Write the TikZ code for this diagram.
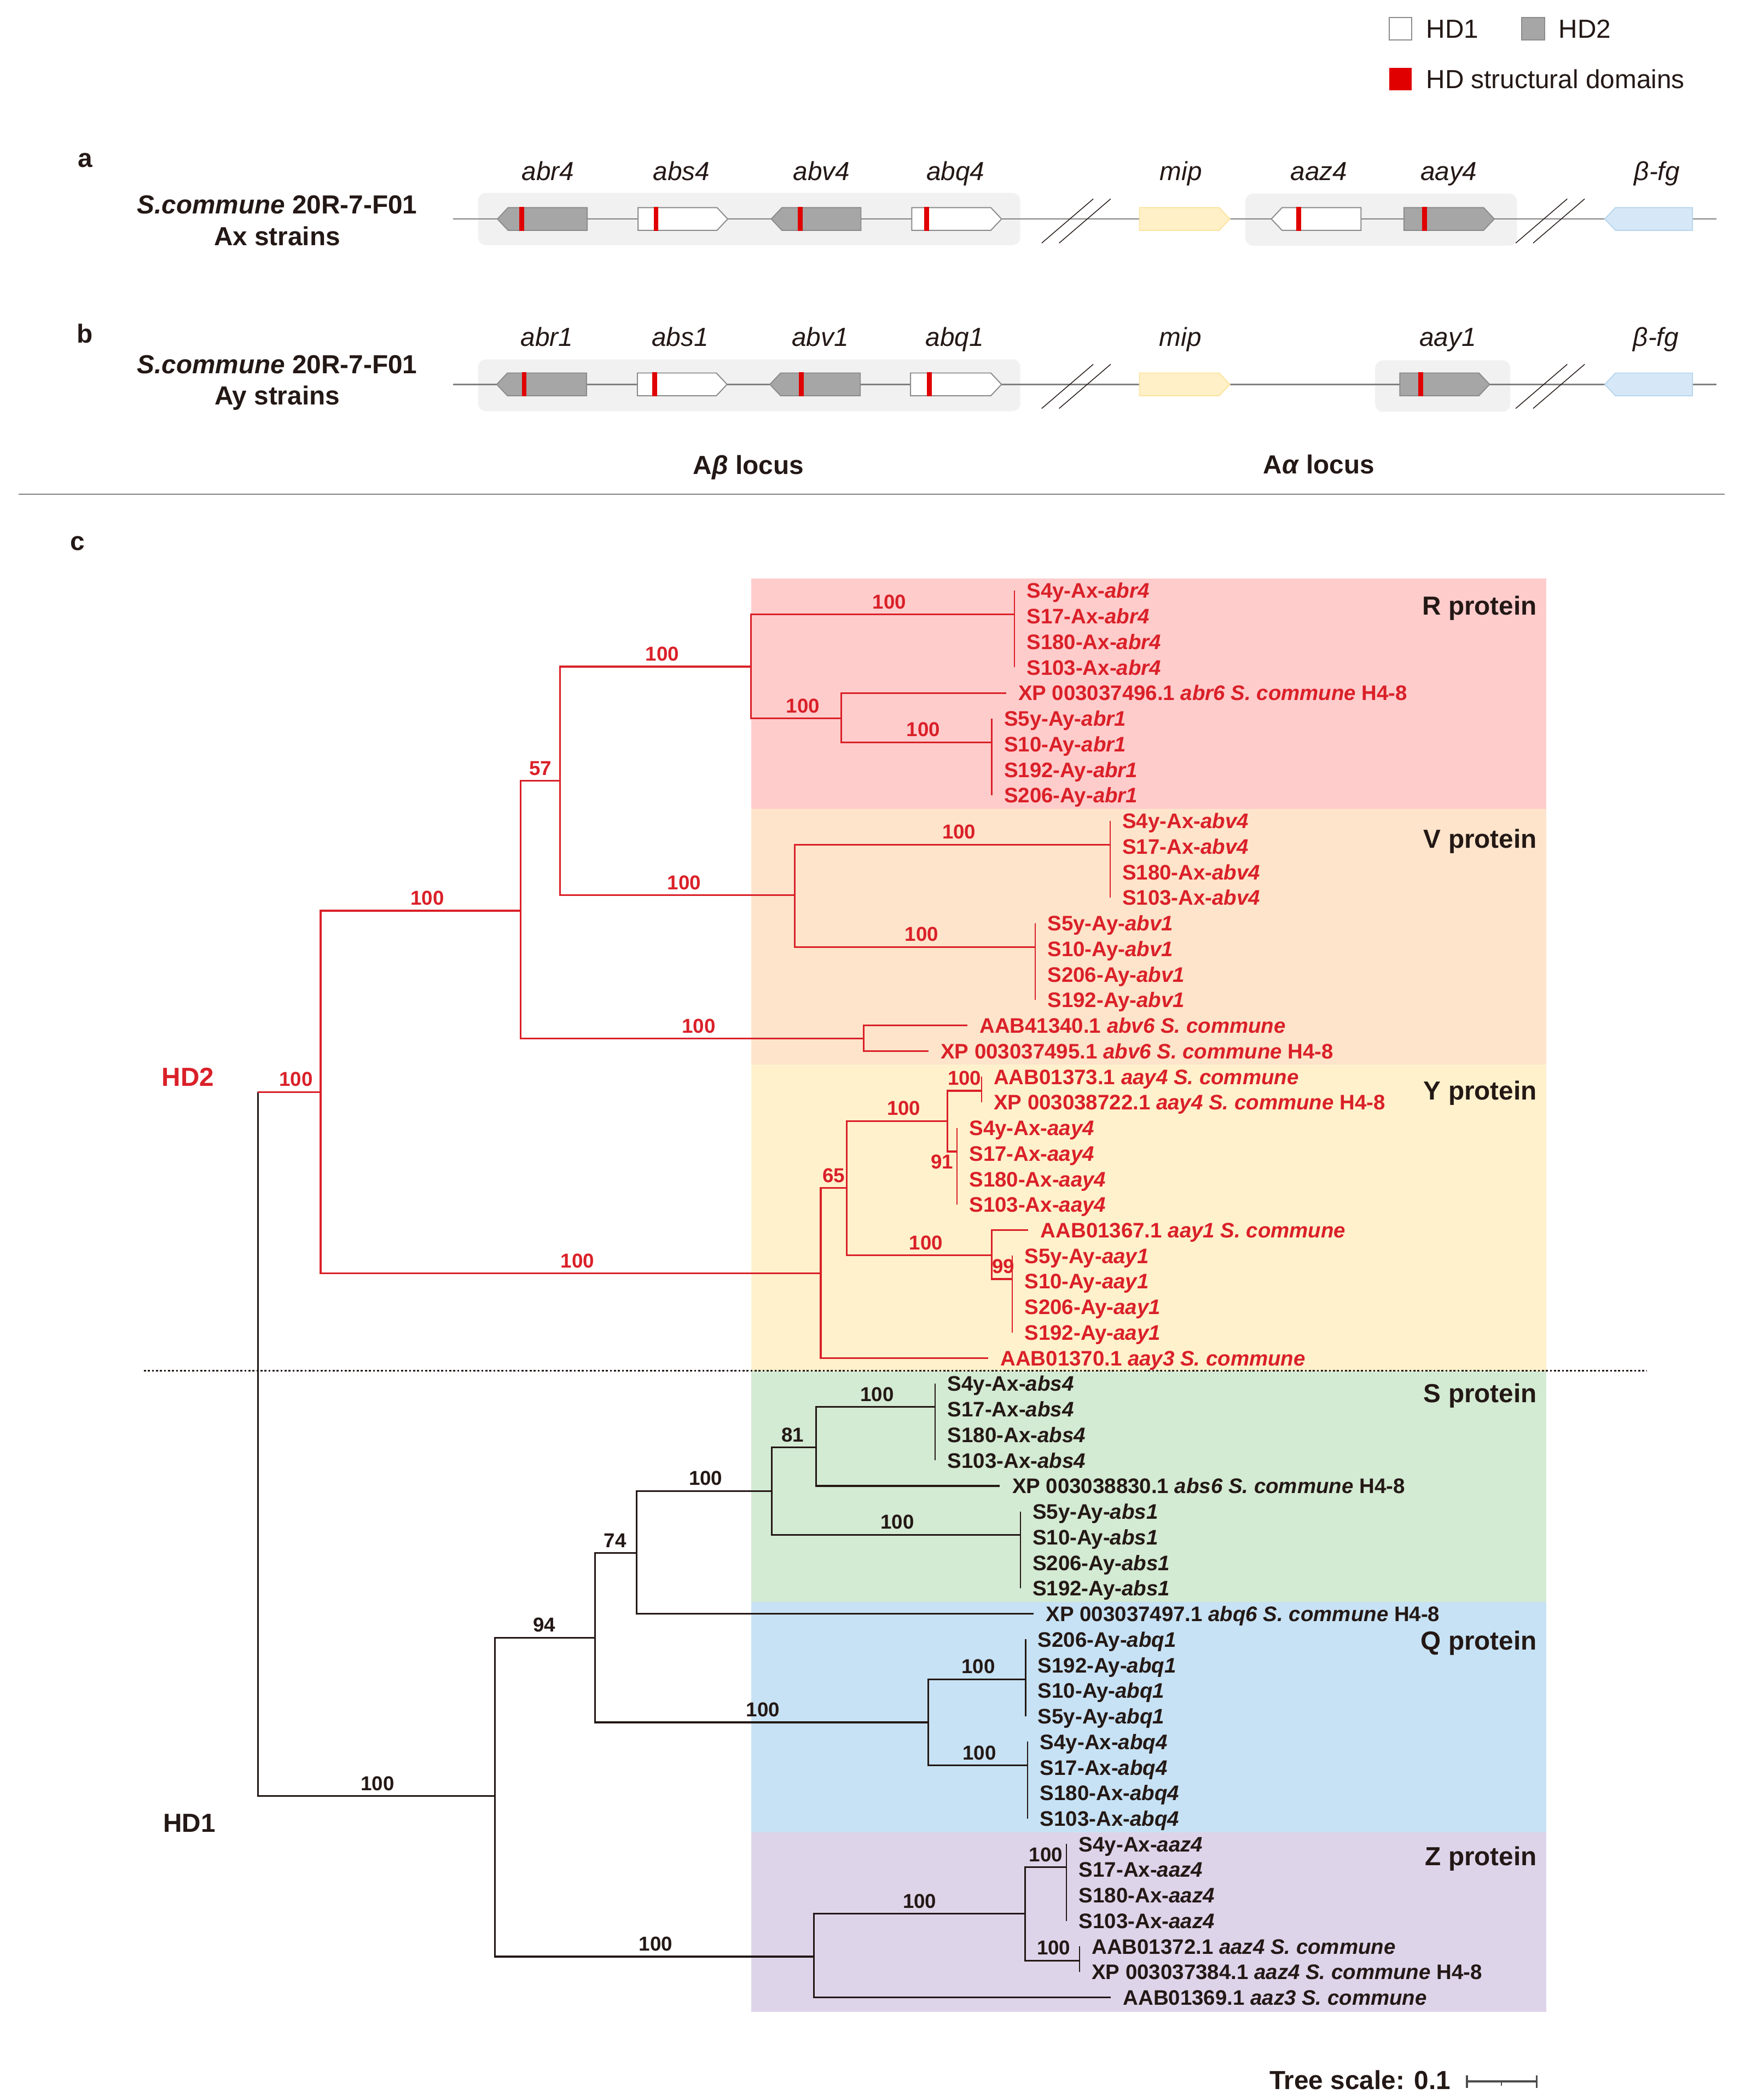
\documentclass[tikz,border=0pt]{standalone}
\usepackage{fontspec}
\setmainfont{Liberation Sans}

\definecolor{ink}{RGB}{35,24,21}
\definecolor{hdred}{RGB}{218,32,40}
\definecolor{domred}{RGB}{224,0,0}
\definecolor{genegray}{RGB}{166,166,166}
\definecolor{geneline}{RGB}{140,140,140}
\definecolor{trackgray}{RGB}{128,128,128}
\definecolor{locusbg}{RGB}{241,241,241}
\definecolor{mipfill}{RGB}{255,240,200}
\definecolor{mipline}{RGB}{252,228,160}
\definecolor{fgfill}{RGB}{214,232,247}
\definecolor{fgline}{RGB}{185,215,238}
\definecolor{bgR}{RGB}{255,204,204}
\definecolor{bgV}{RGB}{253,228,203}
\definecolor{bgY}{RGB}{255,241,204}
\definecolor{bgS}{RGB}{211,234,211}
\definecolor{bgQ}{RGB}{199,226,244}
\definecolor{bgZ}{RGB}{222,212,234}

% gene arrows: x1, x2, y, style
\newcommand{\rgene}[4]{%
  \draw[#4] (#1,#3-8.5) -- (#2-8,#3-8.5) -- (#2,#3) -- (#2-8,#3+8.5) -- (#1,#3+8.5) -- cycle;}
\newcommand{\lgene}[4]{%
  \draw[#4] (#1+8,#3-8.5) -- (#2,#3-8.5) -- (#2,#3+8.5) -- (#1+8,#3+8.5) -- (#1,#3) -- cycle;}
\newcommand{\hdbar}[2]{%
  \fill[domred] (#1-1.8,#2-9) rectangle (#1+1.8,#2+9);}
\newcommand{\breakmark}[2]{%
  \draw[ink, line width=0.6pt] (#1,#2+18) -- (#1+38.5,#2-15);
  \draw[ink, line width=0.6pt] (#1+13,#2+18) -- (#1+51.5,#2-15);}

\begin{document}
\begin{tikzpicture}[x=1pt, y=-1pt,
    lbl/.style = {inner sep=0pt, text height=14pt, text depth=0pt, text=ink, font=\fontsize{19.5}{23}\selectfont},
    hd/.style = {lbl, font=\fontsize{19.5}{23}\selectfont\bfseries},
    gname/.style = {lbl, font=\fontsize{19.5}{23}\selectfont\itshape},
    leaf/.style = {anchor=west, inner xsep=9pt, inner ysep=0pt, text height=11.3pt, text depth=0pt, font=\fontsize{15.7}{19}\selectfont\bfseries},
    leafr/.style = {leaf, text=hdred},
    leafk/.style = {leaf, text=ink},
    boot/.style = {pos=0.75, above, inner xsep=0pt, inner ysep=3.6pt, text height=10.8pt, text depth=0pt, font=\fontsize{15}{18}\selectfont\bfseries, xshift=1pt},
    bootr/.style = {boot, xshift=4pt},
    redtree/.style = {color=hdred, line width=1.3pt},
    blktree/.style = {color=ink, line width=1.3pt},
    tip/.style = {line width=0.9pt},
    graygene/.style = {fill=genegray, draw=geneline, line width=0.8pt},
    whitegene/.style = {fill=white, draw=geneline, line width=0.8pt},
    mipgene/.style = {fill=mipfill, draw=mipline, line width=0.8pt},
    fggene/.style = {fill=fgfill, draw=fgline, line width=0.8pt},
    locus/.style = {fill=locusbg, rounded corners=6pt},
    track/.style = {draw=trackgray, line width=1.1pt}]

    \useasboundingbox (0,0) rectangle (1304,1568);

    % Legend
    \draw[geneline, fill=white, line width=0.8pt] (1037.5,13) rectangle (1054.5,30);
    \node[lbl, anchor=west] (lgone) at (1065,21.5) {HD1};
    \draw[geneline, fill=genegray, line width=0.8pt] (1136.5,13) rectangle (1153.5,30);
    \node[lbl, anchor=west] (lgtwo) at (1164,21.5) {HD2};
    \fill[domred] (1037.5,50.5) rectangle (1054.5,67.5);
    \node[lbl, anchor=west] (lgdom) at (1065,59) {HD structural domains};

    % Panel a
    \node[hd] (pa) at (63.5,118) {a};
    \node[hd] (straina) at (207,152.7) {\textit{S.commune} 20R-7-F01};
    \node[hd] (axlbl) at (207,176.3) {Ax strains};
    \fill[locus] (357,144) rectangle (762,183);
    \fill[locus] (930,144.5) rectangle (1133,183.5);
    \draw[track] (338.5,163.5) -- (1282,163.5);
    \breakmark{778}{163.5}
    \breakmark{1132}{163.5}
    \lgene{371.5}{438.5}{163.5}{graygene} \hdbar{389.5}{163.5}
    \rgene{476.5}{543.5}{163.5}{whitegene} \hdbar{490}{163.5}
    \lgene{576}{643}{163.5}{graygene} \hdbar{597.5}{163.5}
    \rgene{681}{748}{163.5}{whitegene} \hdbar{692}{163.5}
    \rgene{851}{918.5}{163.5}{mipgene}
    \lgene{949.5}{1016.5}{163.5}{whitegene} \hdbar{970}{163.5}
    \rgene{1048.5}{1116}{163.5}{graygene} \hdbar{1064}{163.5}
    \lgene{1198.5}{1264}{163.5}{fggene}
    \node[gname] (ga1) at (409.3,127.6) {abr4};
    \node[gname] (ga2) at (509,127.6) {abs4};
    \node[gname] (ga3) at (613.5,127.6) {abv4};
    \node[gname] (ga4) at (713.6,127.6) {abq4};
    \node[gname] (ga5) at (882,127.6) {mip};
    \node[gname] (ga6) at (985,127.6) {aaz4};
    \node[gname] (ga7) at (1082,127.6) {aay4};
    \node[gname] (ga8) at (1237.5,127.6) {β-fg};

    % Panel b
    \node[hd] (pb) at (63.5,249) {b};
    \node[hd] (strainb) at (207,271.7) {\textit{S.commune} 20R-7-F01};
    \node[hd] (aylbl) at (207,295.4) {Ay strains};
    \fill[locus] (357,268.3) rectangle (762,307);
    \fill[locus] (1027,269) rectangle (1128,307.5);
    \draw[track] (338.5,287) -- (1282,287);
    \breakmark{778}{287}
    \breakmark{1132}{287}
    \lgene{371}{438}{287}{graygene} \hdbar{391.5}{287}
    \rgene{476}{543}{287}{whitegene} \hdbar{489}{287}
    \lgene{575}{642.5}{287}{graygene} \hdbar{598.5}{287}
    \rgene{680}{748}{287}{whitegene} \hdbar{694}{287}
    \rgene{851}{918.5}{287}{mipgene}
    \rgene{1045.5}{1112.5}{287}{graygene} \hdbar{1061}{287}
    \lgene{1198.5}{1264}{287}{fggene}
    \node[gname] (gb1) at (408.5,251.4) {abr1};
    \node[gname] (gb2) at (508,251.4) {abs1};
    \node[gname] (gb3) at (612.5,251.4) {abv1};
    \node[gname] (gb4) at (713,251.4) {abq1};
    \node[gname] (gb5) at (881.5,251.4) {mip};
    \node[gname] (gb7) at (1081.3,251.4) {aay1};
    \node[gname] (gb8) at (1236.7,251.4) {β-fg};

    \node[hd] (locb) at (559,347) {A\textit{β} locus};
    \node[hd] (loca) at (985,346.5) {A\textit{α} locus};
    \draw[trackgray, line width=1pt] (14,369) -- (1288,369);

    % Panel c: clade backgrounds
    \node[hd] (pc) at (58,404) {c};
    \fill[bgR] (561,432) rectangle (1155,604);
    \fill[bgV] (561,604) rectangle (1155,795);
    \fill[bgY] (561,795) rectangle (1155,1023.5);
    \fill[bgS] (561,1023.5) rectangle (1155,1196);
    \fill[bgQ] (561,1196) rectangle (1155,1368);
    \fill[bgZ] (561,1368) rectangle (1155,1502);
    \node[hd, anchor=east] (protR) at (1148,452) {R protein};
    \node[hd, anchor=east] (protV) at (1148,626) {V protein};
    \node[hd, anchor=east] (protY) at (1148,814) {Y protein};
    \node[hd, anchor=east] (protS) at (1148,1040) {S protein};
    \node[hd, anchor=east] (protQ) at (1148,1225) {Q protein};
    \node[hd, anchor=east] (protZ) at (1148,1386) {Z protein};
    \draw[ink, line width=1.2pt, dash pattern=on 1.5pt off 1.5pt] (107.5,1023.5) -- (1230,1023.5);

    \node[hd, text=hdred] (hdtwolbl) at (140.4,804) {HD2};
    \node[hd] (hdonelbl) at (141.5,1361) {HD1};

    % Inner nodes
    \coordinate (root) at (192.6,1078);
    \coordinate (hd2) at (239.5,815.4);
    \coordinate (nA) at (388.8,680);
    \coordinate (n57) at (418.3,583);
    \coordinate (nR) at (561,497.7);
    \coordinate (nRfour) at (757.6,458.8);
    \coordinate (nRx) at (628.3,536.5);
    \coordinate (nRone) at (740.7,554.2);
    \coordinate (nV) at (593.5,668.5);
    \coordinate (nVfour) at (829,630.7);
    \coordinate (nVone) at (773.2,707);
    \coordinate (nVsix) at (645,775.5);
    \coordinate (nY) at (613,950.8);
    \coordinate (n65) at (632.4,887);
    \coordinate (nYfour) at (707.6,837);
    \coordinate (nYpair) at (733,814.4);
    \coordinate (nYax) at (714.7,859.8);
    \coordinate (nYone) at (740.7,937.2);
    \coordinate (nYay) at (756,955);
    \coordinate (hd1) at (369.5,1341);
    \coordinate (n94) at (444.3,1222.8);
    \coordinate (n74) at (475.6,1159.7);
    \coordinate (nS) at (576.5,1113.2);
    \coordinate (n81) at (609.5,1080.7);
    \coordinate (nSfour) at (698.5,1050.4);
    \coordinate (nSone) at (762,1146);
    \coordinate (nQ) at (693.4,1286);
    \coordinate (nQone) at (766,1253.8);
    \coordinate (nQfour) at (767.6,1318.1);
    \coordinate (nZ) at (608,1460.9);
    \coordinate (nZx) at (765.6,1428.9);
    \coordinate (nZfour) at (796.6,1394.1);
    \coordinate (nZpair) at (806.2,1463.9);

    % Leaves
    \node[leafr] (l0) at (757.6,441.0) {S4y-Ax-\textit{abr4}};
    \node[leafr] (l1) at (757.6,460.1) {S17-Ax-\textit{abr4}};
    \node[leafr] (l2) at (757.6,479.2) {S180-Ax-\textit{abr4}};
    \node[leafr] (l3) at (757.6,498.3) {S103-Ax-\textit{abr4}};
    \node[leafr] (l4) at (751.3,517.4) {XP 003037496.1 \textit{abr6 S. commune} H4-8};
    \node[leafr] (l5) at (740.7,536.5) {S5y-Ay-\textit{abr1}};
    \node[leafr] (l6) at (740.7,555.6) {S10-Ay-\textit{abr1}};
    \node[leafr] (l7) at (740.7,574.7) {S192-Ay-\textit{abr1}};
    \node[leafr] (l8) at (740.7,593.8) {S206-Ay-\textit{abr1}};
    \node[leafr] (l9) at (829,612.9) {S4y-Ax-\textit{abv4}};
    \node[leafr] (l10) at (829,632.0) {S17-Ax-\textit{abv4}};
    \node[leafr] (l11) at (829,651.1) {S180-Ax-\textit{abv4}};
    \node[leafr] (l12) at (829,670.2) {S103-Ax-\textit{abv4}};
    \node[leafr] (l13) at (773.2,689.3) {S5y-Ay-\textit{abv1}};
    \node[leafr] (l14) at (773.2,708.4) {S10-Ay-\textit{abv1}};
    \node[leafr] (l15) at (773.2,727.5) {S206-Ay-\textit{abv1}};
    \node[leafr] (l16) at (773.2,746.6) {S192-Ay-\textit{abv1}};
    \node[leafr] (l17) at (722.4,765.7) {AAB41340.1 \textit{abv6 S. commune}};
    \node[leafr] (l18) at (693.4,784.8) {XP 003037495.1 \textit{abv6 S. commune} H4-8};
    \node[leafr] (l19) at (733,803.9) {AAB01373.1 \textit{aay4 S. commune}};
    \node[leafr] (l20) at (733,823.0) {XP 003038722.1 \textit{aay4 S. commune} H4-8};
    \node[leafr] (l21) at (714.7,842.1) {S4y-Ax-\textit{aay4}};
    \node[leafr] (l22) at (714.7,861.2) {S17-Ax-\textit{aay4}};
    \node[leafr] (l23) at (714.7,880.3) {S180-Ax-\textit{aay4}};
    \node[leafr] (l24) at (714.7,899.4) {S103-Ax-\textit{aay4}};
    \node[leafr] (l25) at (768,918.5) {AAB01367.1 \textit{aay1 S. commune}};
    \node[leafr] (l26) at (756,937.6) {S5y-Ay-\textit{aay1}};
    \node[leafr] (l27) at (756,956.7) {S10-Ay-\textit{aay1}};
    \node[leafr] (l28) at (756,975.8) {S206-Ay-\textit{aay1}};
    \node[leafr] (l29) at (756,994.9) {S192-Ay-\textit{aay1}};
    \node[leafr] (l30) at (738,1014.0) {AAB01370.1 \textit{aay3 S. commune}};
    \node[leafk] (l31) at (698.5,1033.1) {S4y-Ax-\textit{abs4}};
    \node[leafk] (l32) at (698.5,1052.2) {S17-Ax-\textit{abs4}};
    \node[leafk] (l33) at (698.5,1071.3) {S180-Ax-\textit{abs4}};
    \node[leafk] (l34) at (698.5,1090.4) {S103-Ax-\textit{abs4}};
    \node[leafk] (l35) at (746.8,1109.5) {XP 003038830.1 \textit{abs6 S. commune} H4-8};
    \node[leafk] (l36) at (762,1128.6) {S5y-Ay-\textit{abs1}};
    \node[leafk] (l37) at (762,1147.7) {S10-Ay-\textit{abs1}};
    \node[leafk] (l38) at (762,1166.8) {S206-Ay-\textit{abs1}};
    \node[leafk] (l39) at (762,1185.9) {S192-Ay-\textit{abs1}};
    \node[leafk] (l40) at (772,1205.0) {XP 003037497.1 \textit{abq6 S. commune} H4-8};
    \node[leafk] (l41) at (766,1224.1) {S206-Ay-\textit{abq1}};
    \node[leafk] (l42) at (766,1243.2) {S192-Ay-\textit{abq1}};
    \node[leafk] (l43) at (766,1262.3) {S10-Ay-\textit{abq1}};
    \node[leafk] (l44) at (766,1281.4) {S5y-Ay-\textit{abq1}};
    \node[leafk] (l45) at (767.6,1300.5) {S4y-Ax-\textit{abq4}};
    \node[leafk] (l46) at (767.6,1319.6) {S17-Ax-\textit{abq4}};
    \node[leafk] (l47) at (767.6,1338.7) {S180-Ax-\textit{abq4}};
    \node[leafk] (l48) at (767.6,1357.8) {S103-Ax-\textit{abq4}};
    \node[leafk] (l49) at (796.6,1376.9) {S4y-Ax-\textit{aaz4}};
    \node[leafk] (l50) at (796.6,1396.0) {S17-Ax-\textit{aaz4}};
    \node[leafk] (l51) at (796.6,1415.1) {S180-Ax-\textit{aaz4}};
    \node[leafk] (l52) at (796.6,1434.2) {S103-Ax-\textit{aaz4}};
    \node[leafk] (l53) at (806.2,1453.3) {AAB01372.1 \textit{aaz4 S. commune}};
    \node[leafk] (l54) at (806.2,1472.4) {XP 003037384.1 \textit{aaz4 S. commune} H4-8};
    \node[leafk] (l55) at (829.6,1491.5) {AAB01369.1 \textit{aaz3 S. commune}};

    % Root
    \draw[blktree] (root) -- (root |- hd2);
    \draw[redtree] (root |- hd2) -- node[bootr, pos=0.5] {100} (hd2);
    \draw[blktree] (root) |- node[boot] {100} (hd1);

    % HD2 branches
    \draw[redtree] (hd2) |- node[bootr] {100} (nA);
    \draw[redtree] (hd2) |- node[bootr] {100} (nY);
    \draw[redtree] (nA) |- node[boot, xshift=-1pt] {57} (n57);
    \draw[redtree] (nA) |- node[bootr] {100} (nVsix);
    \draw[redtree] (n57) |- node[bootr] {100} (nR);
    \draw[redtree] (n57) |- node[bootr] {100} (nV);
    \draw[redtree] (nR) |- node[bootr] {100} (nRfour);
    \draw[redtree] (nR) |- node[bootr] {100} (nRx);
    \draw[redtree] (nRx) |- (l4.west);
    \draw[redtree] (nRx) |- node[bootr] {100} (nRone);
    \draw[redtree, tip] (l0.west) -- (l3.west);
    \draw[redtree, tip] (l5.west) -- (l8.west);
    \draw[redtree] (nV) |- node[bootr] {100} (nVfour);
    \draw[redtree] (nV) |- node[bootr] {100} (nVone);
    \draw[redtree, tip] (l9.west) -- (l12.west);
    \draw[redtree, tip] (l13.west) -- (l16.west);
    \draw[redtree] (nVsix) |- (l17.west);
    \draw[redtree] (nVsix) |- (l18.west);
    \draw[redtree] (nY) |- node[boot, xshift=-1pt] {65} (n65);
    \draw[redtree] (nY) |- (l30.west);
    \draw[redtree] (n65) |- node[bootr] {100} (nYfour);
    \draw[redtree] (n65) |- node[bootr] {100} (nYone);
    \draw[redtree] (nYfour) |- node[boot, xshift=-1pt] {100} (nYpair);
    \draw[redtree] (nYfour) |- node[boot, xshift=-8.5pt, yshift=-17pt] {91} (nYax);
    \draw[redtree, tip] (l19.west) -- (l20.west);
    \draw[redtree, tip] (l21.west) -- (l24.west);
    \draw[redtree] (nYone) |- (l25.west);
    \draw[redtree] (nYone) |- node[boot] {99} (nYay);
    \draw[redtree, tip] (l26.west) -- (l29.west);

    % HD1 branches
    \draw[blktree] (hd1) |- node[boot, xshift=-1.5pt] {94} (n94);
    \draw[blktree] (hd1) |- node[boot] {100} (nZ);
    \draw[blktree] (n94) |- node[boot, xshift=-1.5pt] {74} (n74);
    \draw[blktree] (n94) |- node[boot] {100} (nQ);
    \draw[blktree] (n74) |- node[boot] {100} (nS);
    \draw[blktree] (n74) |- (l40.west);
    \draw[blktree] (nS) |- node[boot, xshift=-2pt] {81} (n81);
    \draw[blktree] (nS) |- node[boot] {100} (nSone);
    \draw[blktree] (n81) |- node[boot] {100} (nSfour);
    \draw[blktree] (n81) |- (l35.west);
    \draw[blktree, tip] (l31.west) -- (l34.west);
    \draw[blktree, tip] (l36.west) -- (l39.west);
    \draw[blktree] (nQ) |- node[boot] {100} (nQone);
    \draw[blktree] (nQ) |- node[boot] {100} (nQfour);
    \draw[blktree, tip] (l41.west) -- (l44.west);
    \draw[blktree, tip] (l45.west) -- (l48.west);
    \draw[blktree] (nZ) |- node[boot, xshift=-1pt] {100} (nZx);
    \draw[blktree] (nZ) |- (l55.west);
    \draw[blktree] (nZx) |- node[boot, xshift=-1pt] {100} (nZfour);
    \draw[blktree] (nZx) |- node[boot] {100} (nZpair);
    \draw[blktree, tip] (l49.west) -- (l52.west);
    \draw[blktree, tip] (l53.west) -- (l54.west);

    % Tree scale
    \node[hd, anchor=west] (scalelbl) at (948,1553) {Tree scale: 0.1};
    \draw[black!70, line width=1.5pt] (1095.6,1554.2) -- (1147.7,1554.2);
    \draw[black!70, line width=1.5pt] (1095.6,1549.5) -- (1095.6,1559);
    \draw[black!70, line width=1.5pt] (1147.7,1549.5) -- (1147.7,1559);
    \draw[black!70, line width=1pt] (1121.4,1554.2) -- (1121.4,1557.5);
\end{tikzpicture}
\end{document}
